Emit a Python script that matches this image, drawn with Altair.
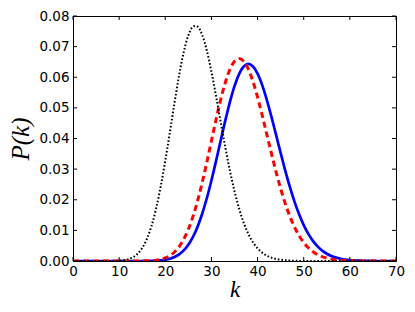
import altair as alt
import pandas as pd

k_values = list(range(0, 71))

black_vals = [0]*9 + [
    0.00004, 0.00011, 0.00026, 0.00059, 0.00122, 0.00236, 0.00425, 0.00717,
    0.01138, 0.01707, 0.02426, 0.03275, 0.04210, 0.05167, 0.06066, 0.06824,
    0.07370, 0.07654, 0.07654, 0.07381, 0.06872, 0.06185, 0.05387, 0.04545,
    0.03719, 0.02953, 0.02278, 0.01709, 0.01247, 0.00886, 0.00613, 0.00414,
    0.00273, 0.00175, 0.00110, 0.00068, 0.00041, 0.00024, 0.00014, 0.00008,
    0.00004, 0.00002] + [0]*20

red_vals = [0]*15 + [
    0.00003, 0.00007, 0.00014, 0.00029, 0.00056, 0.00102, 0.00177, 0.00294,
    0.00466, 0.00709, 0.01035, 0.01453, 0.01964, 0.02560, 0.03222, 0.03920,
    0.04616, 0.05265, 0.05823, 0.06251, 0.06519, 0.06610, 0.06521, 0.06264,
    0.05862, 0.05349, 0.04762, 0.04138, 0.03513, 0.02914, 0.02364, 0.01876,
    0.01457, 0.01108, 0.00825, 0.00602, 0.00431, 0.00303, 0.00209, 0.00141,
    0.00094, 0.00061, 0.00039, 0.00025, 0.00015, 0.00009, 0.00005, 0.00003] + [0]*8

blue_vals = [0]*16 + [
    0.00002, 0.00005, 0.00010, 0.00021, 0.00040, 0.00073, 0.00128, 0.00215,
    0.00345, 0.00531, 0.00787, 0.01122, 0.01543, 0.02049, 0.02629, 0.03265,
    0.03928, 0.04583, 0.05190, 0.05709, 0.06105, 0.06352, 0.06436, 0.06353,
    0.06115, 0.05742, 0.05264, 0.04713, 0.04124, 0.03528, 0.02953, 0.02419,
    0.01940, 0.01524, 0.01174, 0.00886, 0.00656, 0.00477, 0.00340, 0.00238,
    0.00164, 0.00111, 0.00074, 0.00048, 0.00031, 0.00019, 0.00012, 0.00007,
    0.00004, 0.00003] + [0]*5

x_ticks = [0, 10, 20, 30, 40, 50, 60, 70]
y_ticks = [0.0, 0.01, 0.02, 0.03, 0.04, 0.05, 0.06, 0.07, 0.08]

W, H = 323, 245


def frame(vals):
    return pd.DataFrame({"k": k_values, "P": vals})


xenc = alt.X("k:Q", scale=alt.Scale(domain=[0, 70], nice=False, zero=False),
             axis=alt.Axis(values=x_ticks, title="k", labelFlush=False,
                           labelOverlap=False, labelPadding=3, titlePadding=1,
                           titleFontSize=23))
yenc = alt.Y("P:Q", scale=alt.Scale(domain=[0, 0.08], nice=False),
             axis=alt.Axis(values=y_ticks, format=".2f", title="P(k)",
                           labelFlush=False, labelOverlap=False,
                           labelPadding=4, titlePadding=5, titleFontSize=25))

blue = alt.Chart(frame(blue_vals)).mark_line(
    color="#0000ff", strokeWidth=2.7, interpolate="catmull-rom", clip=True
).encode(x=xenc, y=yenc)
red = alt.Chart(frame(red_vals)).mark_line(
    color="#ff0000", strokeWidth=3, strokeDash=[6, 4], interpolate="catmull-rom", clip=True
).encode(x=xenc, y=yenc)
black = alt.Chart(frame(black_vals)).mark_line(
    color="black", strokeWidth=2, strokeDash=[1.6, 2], interpolate="catmull-rom", clip=True
).encode(x=xenc, y=yenc)

xt = pd.DataFrame({"k": x_ticks})
yt = pd.DataFrame({"P": y_ticks})
top_ticks = alt.Chart(xt).mark_rule(color="black", strokeWidth=1).encode(
    x=xenc, y=alt.value(0), y2=alt.value(4))
bot_ticks = alt.Chart(xt).mark_rule(color="black", strokeWidth=1).encode(
    x=xenc, y=alt.value(H), y2=alt.value(H - 4))
left_ticks = alt.Chart(yt).mark_rule(color="black", strokeWidth=1).encode(
    y=yenc, x=alt.value(0), x2=alt.value(4))
right_ticks = alt.Chart(yt).mark_rule(color="black", strokeWidth=1).encode(
    y=yenc, x=alt.value(W), x2=alt.value(W - 4))

chart = alt.layer(
    blue, red, black, top_ticks, bot_ticks, left_ticks, right_ticks
).properties(
    width=W, height=H,
    autosize=alt.AutoSizeParams(type="none"),
    padding={"left": 65, "top": 8, "right": 10, "bottom": 43},
).configure_view(
    stroke="black", strokeWidth=1
).configure_axis(
    domainColor="black", domainWidth=1, ticks=False, grid=False,
    labelFont="DejaVu Sans", labelFontSize=13.5, labelColor="black",
    titleFont="Liberation Serif", titleFontStyle="italic",
    titleFontWeight="normal", titleColor="black",
)

chart.save("out.html", embed_options={"renderer": "svg", "actions": False})
